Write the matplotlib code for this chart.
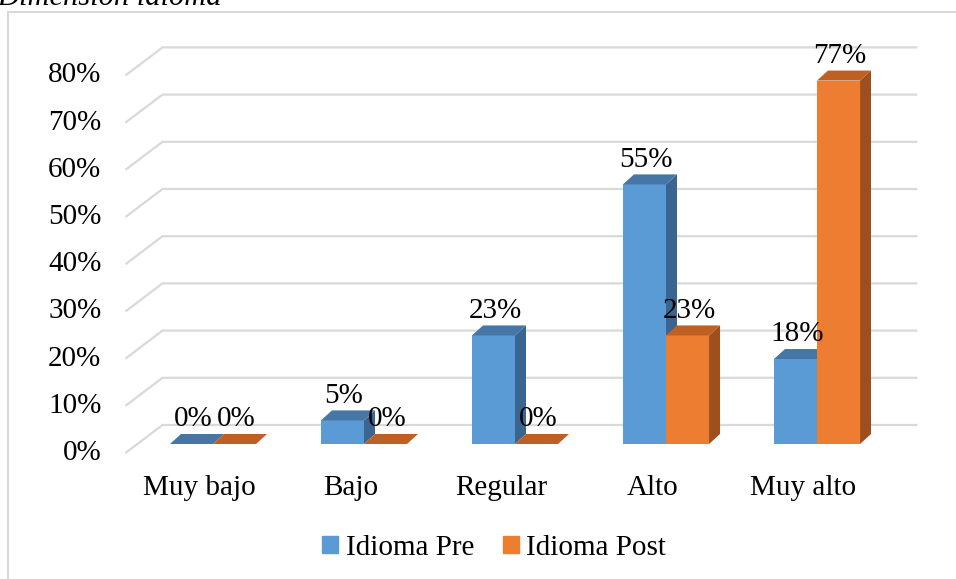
import matplotlib.pyplot as plt
from matplotlib.patches import Polygon, Rectangle, Patch
import numpy as np

plt.rcParams['font.family'] = ['Liberation Serif', 'DejaVu Serif']

categories = ['Muy bajo', 'Bajo', 'Regular', 'Alto', 'Muy alto']
pre = [0, 5, 23, 55, 18]
post = [0, 0, 0, 23, 77]
series_names = ['Idioma Pre', 'Idioma Post']
yticks = [0, 10, 20, 30, 40, 50, 60, 70, 80]

# colours: front, top, side
blue = ('#5B9BD5', '#4676A6', '#3A6590')
orange = ('#ED7D31', '#BE5F24', '#9E4F1D')
grid_c = '#d9d9d9'

W, H = 956, 579
fig = plt.figure(figsize=(W / 100, H / 100), dpi=100)
ax = fig.add_axes([0, 0, 1, 1])
# one category = 151 px, 1% = 4.72 px; bar plane origin at px (213, 444)
ax.set_xlim(-213 / 151, (W - 213) / 151)
ax.set_ylim((444 - H) / 4.72, 444 / 4.72)
ax.axis('off')

# oblique depth offsets (data units)
bar_dx, bar_dy = 11 / 151, 10 / 4.72
front_dx, front_dy = -12 / 151, -9 / 4.72
back_dx, back_dy = 25 / 151, 19 / 4.72
left, right = -0.5, 4.5
w = 0.285

# gridlines / floor
for v in yticks:
    ax.plot([left + front_dx, left + back_dx, right + back_dx],
            [v + front_dy, v + back_dy, v + back_dy],
            color=grid_c, lw=1.6, zorder=1, solid_capstyle='butt')
    ax.text(left + front_dx - 0.16, v + front_dy, f'{v}%', ha='right',
            va='center', fontsize=21)

x = np.arange(len(categories))


def draw_bar(xl, v, cols):
    front, top, side = cols
    ax.add_patch(Polygon([(xl + w, 0), (xl + w + bar_dx, bar_dy),
                          (xl + w + bar_dx, v + bar_dy), (xl + w, v)],
                         closed=True, fc=side, ec='none', zorder=3))
    if v > 0:
        ax.bar(xl, v, width=w, align='edge', color=front, zorder=3)
    ax.add_patch(Polygon([(xl, v), (xl + w, v), (xl + w + bar_dx, v + bar_dy),
                          (xl + bar_dx, v + bar_dy)],
                         closed=True, fc=top, ec='none', zorder=3))
    ax.text(xl + w / 2 + 0.01, v + bar_dy + 1.6, f'{v}%', ha='center',
            va='baseline', fontsize=21, zorder=5)


for i in x:
    draw_bar(i - w, pre[i], blue)
    draw_bar(i, post[i], orange)
    ax.text(i + front_dx - 0.01, -9.3, categories[i], ha='center',
            va='center', fontsize=21)

# chart frame
fig.patches.append(Rectangle((8 / W, -0.1), 1.2, 1 - 12 / H + 0.1,
                             transform=fig.transFigure, fill=False,
                             ec=grid_c, lw=1.5))

fig.text(-0.003, 1 - 5 / H, 'Dimensión idioma', fontsize=22,
         style='italic', va='baseline', ha='left')

handles = [Patch(color=blue[0]), Patch(color=orange[0])]
fig.legend(handles, series_names, loc='center',
           bbox_to_anchor=(0.517, 1 - 548 / H), ncol=2, frameon=False,
           fontsize=21, handlelength=0.55, handleheight=0.55,
           handletextpad=0.25, columnspacing=1.0)

fig.savefig('out.png', dpi=100)
